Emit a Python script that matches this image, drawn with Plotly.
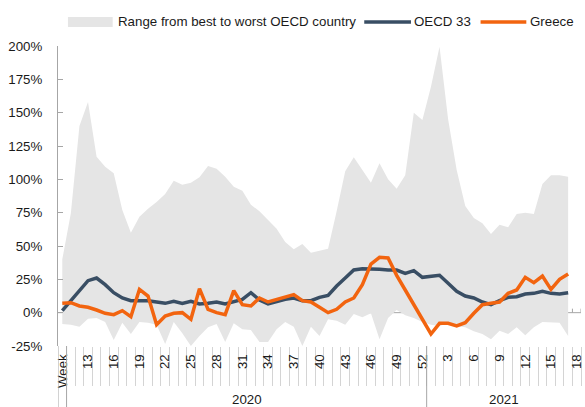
import plotly.graph_objects as go

# ---- Data ----
years = ["2020"] * 43 + ["2021"] * 18
weeks = list(range(10, 53)) + list(range(1, 19))
tick_labels = ["Week", "13", "16", "19", "22", "25", "28", "31", "34", "37", "40",
               "43", "46", "49", "52", "3", "6", "9", "12", "15", "18"]

range_upper = [40, 74.5, 140, 158, 117, 109.5, 104.5, 77, 60, 72, 78, 83, 89, 99, 96, 97.5,
               101.5, 110, 108, 102, 94.5, 91.5, 81, 76, 69.5, 63, 53, 47.5, 51.5, 45, 46.5,
               48, 76, 106, 116.5, 107, 97.5, 112, 100, 93, 103, 150, 144.5, 169.5, 199.5, 145,
               107, 80, 71, 67, 59, 66, 64, 74, 75, 74, 96.5, 103, 103, 102]
range_lower = [-8.5, -9, -10.5, -4.5, -4, -7, -20.5, -7.5, -16, -7, -7.5, -9, -23.5, -7, -15.5, -25,
               -17.5, -11, -8.5, -22, -8, -12.5, -13, -22, -22, -12.5, -7, -10.5, -25, -10.5, -17.5,
               -5, -6, -9, -1, -3.5, -0.5, -20, -4, 2, -2, -4, -7, -9, -10, -8,
               -10, -11, -14, -16, -20, -13.5, -16, -11, -17, -11, -7, -7.5, -7.5, -17.5]
oecd33 = [1.5, 9, 16.5, 24, 26, 21, 15, 11, 9, 9, 9, 8, 7, 8.5, 7, 8.5,
          6.5, 7, 8, 6.5, 8, 10, 15, 9.5, 6.5, 8.5, 10, 11, 9, 9, 11.5,
          13, 20, 26, 32, 33, 33, 32.5, 32, 32, 29.5, 31.5, 26.5, 27, 28, 22,
          16, 12.5, 11, 8, 6, 9, 11.5, 12, 14, 14.5, 16, 14.5, 14, 15]
greece = [7, 7.5, 5, 4, 2, -0.5, -1.5, 1.5, -3, 17.5, 12.5, -9, -2.5, -0.5, 0, -5,
          18, 2.5, 0, -1.5, 16.5, 6, 5, 11, 8, 10, 11.5, 13.5, 9, 8, 4,
          0, 2.5, 8, 11, 21, 36.5, 41.5, 41, 28, 17, 6, -5.5, -16, -8, -8,
          -10, -7.5, -0.5, 6, 7, 8, 14.5, 17, 26.5, 22.5, 27.5, 17.5, 25, 29]

y_ticks = [-25, 0, 25, 50, 75, 100, 125, 150, 175, 200]

# ---- Styling ----
FONT = "Liberation Sans, Arial, sans-serif"
FS = 13.3
TXT = "#1a1a1a"
AX = "#a6a6a6"
GRAY = "#e5e5e5"
C_OECD = "#394e64"
C_GR = "#f2640f"

n_cat = len(weeks)
x = list(range(len(range_upper)))
tick_pos = list(range(0, n_cat, 3))

fig = go.Figure()
fig.add_trace(go.Scatter(x=x, y=range_lower, mode="lines", line=dict(width=0, color=GRAY),
                         showlegend=False, hoverinfo="skip"))
fig.add_trace(go.Scatter(x=x, y=range_upper, mode="lines", line=dict(width=0, color=GRAY),
                         fill="tonexty", fillcolor=GRAY,
                         name="Range from best to worst OECD country", showlegend=False))
fig.add_trace(go.Scatter(x=x, y=oecd33, mode="lines", line=dict(width=3.5, color=C_OECD),
                         name="OECD 33", showlegend=False))
fig.add_trace(go.Scatter(x=x, y=greece, mode="lines", line=dict(width=3.5, color=C_GR),
                         name="Greece", showlegend=False))

shapes = []
# zero line with small category ticks
shapes.append(dict(type="line", xref="x", yref="y", x0=-0.5, x1=n_cat - 0.5, y0=0, y1=0,
                   line=dict(color=AX, width=1), layer="below"))
for k in range(n_cat):
    shapes.append(dict(type="line", xref="x", yref="y", x0=k + 0.5, x1=k + 0.5, y0=0, y1=3,
                       line=dict(color=AX, width=1), layer="below"))
# group dividers in the label area
for xv in [-0.5, 0.5, 42.5]:
    shapes.append(dict(type="line", xref="x", yref="paper", x0=xv, x1=xv, y0=-0.205, y1=0,
                       line=dict(color=AX, width=1)))

# manual legend (paper coords, plot area 58..584 px wide, 46..346 px tall)
def px(xp):
    return (xp - 58) / 526.0

def py(yp):
    return (346 - yp) / 300.0

shapes.append(dict(type="rect", xref="paper", yref="paper", x0=px(68), x1=px(113),
                   y0=py(27), y1=py(17), fillcolor=GRAY, line=dict(width=0)))
shapes.append(dict(type="line", xref="paper", yref="paper", x0=px(366), x1=px(413),
                   y0=py(22), y1=py(22), line=dict(color=C_OECD, width=3.5)))
shapes.append(dict(type="line", xref="paper", yref="paper", x0=px(483), x1=px(529),
                   y0=py(22), y1=py(22), line=dict(color=C_GR, width=3.5)))

annotations = [
    dict(text="Range from best to worst OECD country", x=px(116), y=py(22)),
    dict(text="OECD 33", x=px(414), y=py(22)),
    dict(text="Greece", x=px(531), y=py(22)),
]
for a in annotations:
    a.update(xref="paper", yref="paper", xanchor="left", yanchor="middle", showarrow=False,
             font=dict(family=FONT, size=FS, color=TXT))

# year labels
for yr, xc in [("2020", 21.5), ("2021", 51.5)]:
    annotations.append(dict(text=yr, x=xc, y=py(399), xref="x", yref="paper",
                            xanchor="center", yanchor="middle", showarrow=False,
                            font=dict(family=FONT, size=FS, color=TXT)))

fig.update_layout(
    width=585, height=407,
    margin=dict(l=58, r=1, t=46, b=61),
    paper_bgcolor="white", plot_bgcolor="white",
    font=dict(family=FONT, size=FS, color=TXT),
    shapes=shapes, annotations=annotations,
    showlegend=False,
    xaxis=dict(range=[-0.5, n_cat - 0.5], showgrid=False, zeroline=False, showline=False,
               tickmode="array", tickvals=tick_pos, ticktext=tick_labels, tickangle=-90,
               ticks="outside", ticklen=2, tickcolor="rgba(0,0,0,0)",
               ticklabeloverflow="allow",
               tickfont=dict(family=FONT, size=FS, color=TXT),
               minor=dict(tickmode="array", tickvals=[k + 0.5 for k in range(1, n_cat)],
                          ticks="outside", ticklen=39, tickcolor="#d4d4d4", tickwidth=1)),
    yaxis=dict(range=[-25, 200], showgrid=False, zeroline=False, showline=True,
               linecolor=AX, linewidth=1, tickmode="array", tickvals=y_ticks,
               ticktext=[f"{v}%" for v in y_ticks], ticks="inside", ticklen=5,
               tickcolor=AX, ticklabelstandoff=12,
               tickfont=dict(family=FONT, size=FS, color=TXT)),
)

fig.write_html("out.html", config={"displayModeBar": False},
               post_script="document.body.style.margin='0';document.body.style.overflow='hidden';")
